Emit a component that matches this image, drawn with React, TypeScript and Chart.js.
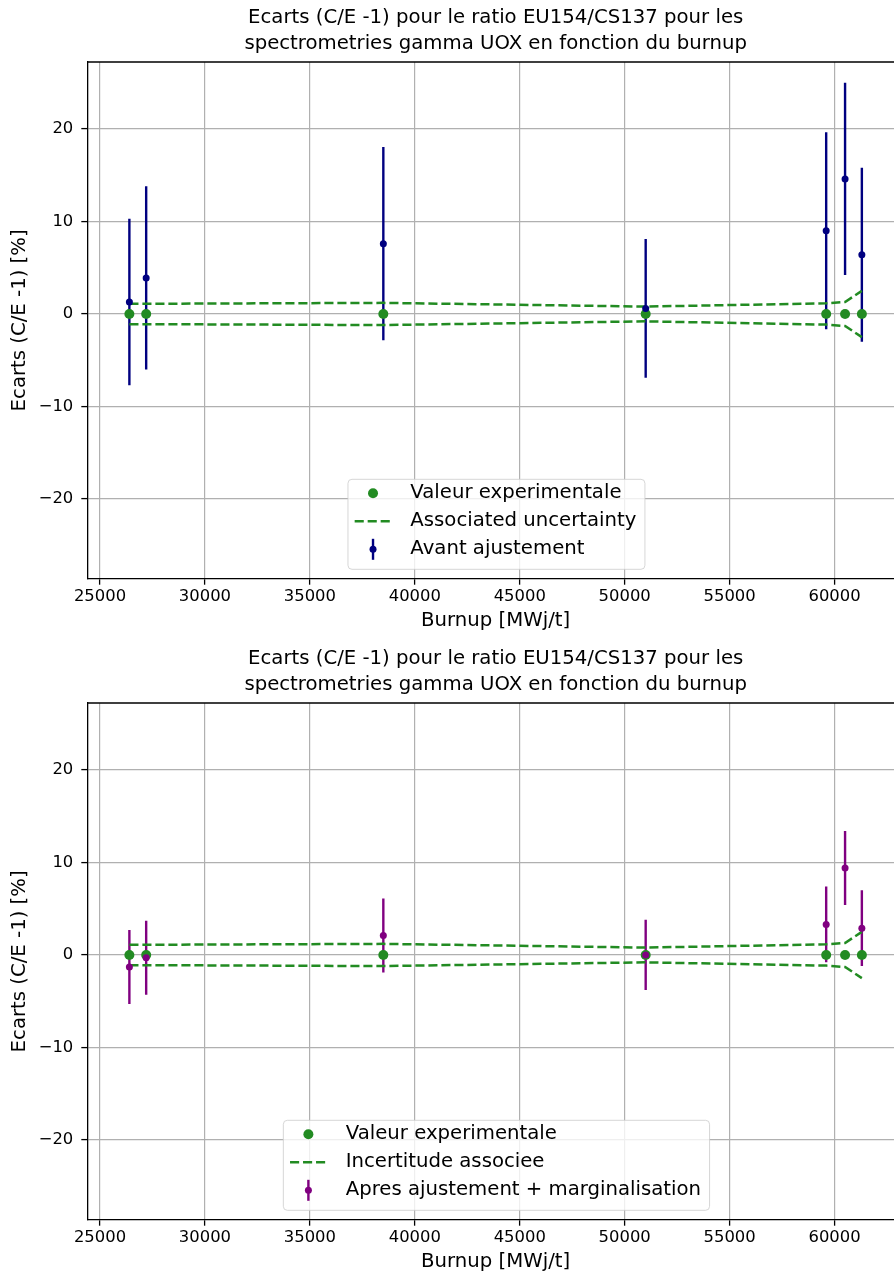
import React, { useEffect, useRef } from "react";
import { Chart, registerables } from "chart.js";
Chart.register(...registerables);

// ---- data ----
const burnup = [26400, 27200, 38500, 51000, 59600, 60500, 61300];
const experimental = [0, 0, 0, 0, 0, 0, 0];
const uncertainty = [1.1, 1.1, 1.2, 0.8, 1.15, 1.3, 2.5];
const ecartsAvant = [1.3, 3.9, 7.6, 0.6, 9.0, 14.6, 6.4];
const errAvant = [9.0, 9.9, 10.45, 7.5, 10.65, 10.4, 9.4];
const ecartsApres = [-1.3, -0.3, 2.1, 0.0, 3.3, 9.4, 2.9];
const errApres = [4.0, 4.0, 4.0, 3.8, 4.1, 4.0, 4.1];
const xTicks = [25000, 30000, 35000, 40000, 45000, 50000, 55000, 60000];
const yTicks = [-20, -10, 0, 10, 20];
const titleLines = [
  "Ecarts (C/E -1) pour le ratio EU154/CS137 pour les",
  "spectrometries gamma UOX en fonction du burnup",
];
const xLabel = "Burnup [MWj/t]";
const yLabel = "Ecarts (C/E -1) [%]";
const legendTop = ["Valeur experimentale", "Associated uncertainty", "Avant ajustement"];
const legendBottom = ["Valeur experimentale", "Incertitude associee", "Apres ajustement + marginalisation"];
const xRange = [24395, 63308];
const yRange = [-28.62, 27.24];

const FONT = "DejaVu Sans";
const GREEN = "#228B22";
const CANVAS_W = 909;

type PanelProps = {
  top: number;
  height: number;
  values: number[];
  errors: number[];
  color: string;
  labels: string[];
  xTitlePad: number;
};

function Panel(p: PanelProps) {
  const ref = useRef<HTMLCanvasElement>(null);
  useEffect(() => {
    const canvas = ref.current!;
    const errorBarPlugin = {
      id: "errorBars",
      beforeDatasetsDraw(chart: any) {
        const { ctx, chartArea, scales } = chart;
        const x = scales.x, y = scales.y;
        ctx.save();
        ctx.beginPath();
        ctx.rect(chartArea.left, chartArea.top, chartArea.right - chartArea.left, chartArea.bottom - chartArea.top);
        ctx.clip();
        ctx.strokeStyle = p.color;
        ctx.lineWidth = 2.4;
        burnup.forEach((b, i) => {
          const px = x.getPixelForValue(b);
          ctx.beginPath();
          ctx.moveTo(px, y.getPixelForValue(p.values[i] - p.errors[i]));
          ctx.lineTo(px, y.getPixelForValue(p.values[i] + p.errors[i]));
          ctx.stroke();
        });
        ctx.restore();
      },
    };
    const framePlugin = {
      id: "frameAndLegend",
      afterDraw(chart: any) {
        const { ctx, chartArea } = chart;
        ctx.save();
        ctx.strokeStyle = "#000";
        ctx.lineWidth = 1.3;
        ctx.beginPath();
        ctx.moveTo(chartArea.left, chartArea.top);
        ctx.lineTo(chartArea.right, chartArea.top);
        ctx.moveTo(chartArea.right, chartArea.top);
        ctx.lineTo(chartArea.right, chartArea.bottom);
        ctx.stroke();
        const fs = 19.7;
        ctx.font = `${fs}px "${FONT}"`;
        const maxW = Math.max(...p.labels.map((l) => ctx.measureText(l).width));
        const boxW = 62.4 + maxW + 8.5;
        const boxH = 90;
        const cx = (chartArea.left + chartArea.right) / 2;
        const left = cx - boxW / 2 + 0.8;
        const top = chartArea.bottom - 9.4 - boxH;
        ctx.beginPath();
        (ctx as any).roundRect(left, top, boxW, boxH, 4);
        ctx.fillStyle = "rgba(255,255,255,0.8)";
        ctx.fill();
        ctx.strokeStyle = "rgba(204,204,204,0.8)";
        ctx.lineWidth = 1;
        ctx.stroke();
        const hx = left + 6.7;
        const hl = 36.7;
        const hc = hx + hl / 2;
        const rows = [top + 14, top + 42, top + 70];
        ctx.fillStyle = GREEN;
        ctx.beginPath();
        ctx.arc(hc, rows[0], 5, 0, Math.PI * 2);
        ctx.fill();
        ctx.strokeStyle = GREEN;
        ctx.lineWidth = 2.5;
        ctx.setLineDash([9.1, 3.9]);
        ctx.beginPath();
        ctx.moveTo(hx, rows[1]);
        ctx.lineTo(hx + hl, rows[1]);
        ctx.stroke();
        ctx.setLineDash([]);
        ctx.strokeStyle = p.color;
        ctx.lineWidth = 2.4;
        ctx.beginPath();
        ctx.moveTo(hc, rows[2] - 10.5);
        ctx.lineTo(hc, rows[2] + 10.5);
        ctx.stroke();
        ctx.fillStyle = p.color;
        ctx.beginPath();
        ctx.arc(hc, rows[2], 3.5, 0, Math.PI * 2);
        ctx.fill();
        ctx.fillStyle = "#000";
        ctx.textBaseline = "middle";
        ctx.textAlign = "left";
        p.labels.forEach((l, i) => ctx.fillText(l, left + 62.4, rows[i]));
        ctx.restore();
      },
    };
    const pts = (ys: number[]) => burnup.map((x, i) => ({ x, y: ys[i] }));
    const chart = new Chart(canvas, {
      type: "scatter",
      data: {
        datasets: [
          {
            label: p.labels[2],
            data: pts(p.values),
            pointRadius: 3.5,
            pointBackgroundColor: p.color,
            pointBorderWidth: 0,
            showLine: false,
          },
          {
            label: p.labels[1],
            data: pts(uncertainty),
            showLine: true,
            borderColor: GREEN,
            borderWidth: 2.5,
            borderDash: [9.1, 3.9],
            pointRadius: 0,
            tension: 0,
          },
          {
            label: "",
            data: pts(uncertainty.map((u) => -u)),
            showLine: true,
            borderColor: GREEN,
            borderWidth: 2.5,
            borderDash: [9.1, 3.9],
            pointRadius: 0,
            tension: 0,
          },
          {
            label: p.labels[0],
            data: pts(experimental),
            pointRadius: 5,
            pointBackgroundColor: GREEN,
            pointBorderWidth: 0,
            showLine: false,
          },
        ] as any,
      },
      options: {
        animation: false,
        responsive: false,
        maintainAspectRatio: false,
        events: [],
        layout: { padding: 0 },
        plugins: {
          legend: { display: false },
          tooltip: { enabled: false },
          title: {
            display: true,
            fullSize: false,
            text: titleLines,
            color: "#000",
            font: { family: FONT, size: 19.7, weight: "normal", lineHeight: 1.32 },
            padding: { top: 5, bottom: 5 },
          } as any,
        },
        scales: {
          x: {
            type: "linear",
            min: xRange[0],
            max: xRange[1],
            afterBuildTicks: (s: any) => {
              s.ticks = xTicks.map((v) => ({ value: v }));
            },
            afterFit: (s: any) => {
              s.height = p.height - 578.7;
              s.paddingLeft = 0;
              s.paddingRight = 0;
            },
            ticks: {
              color: "#000",
              font: { family: FONT, size: 16.4 },
              padding: 2,
              maxRotation: 0,
              autoSkip: false,
              callback: (v: any) => String(v),
            },
            grid: { color: "#b0b0b0", lineWidth: 1.2, tickColor: "#000", tickLength: 6, tickWidth: 1.3 },
            border: { display: true, color: "#000", width: 1.3 },
            title: {
              display: true,
              text: xLabel,
              color: "#000",
              font: { family: FONT, size: 19.7 },
              padding: { top: 0, bottom: p.xTitlePad },
            },
          },
          y: {
            type: "linear",
            min: yRange[0],
            max: yRange[1],
            afterBuildTicks: (s: any) => {
              s.ticks = yTicks.map((v) => ({ value: v }));
            },
            afterFit: (s: any) => {
              s.width = 87.3;
              s.paddingTop = 0;
              s.paddingBottom = 0;
            },
            ticks: {
              color: "#000",
              font: { family: FONT, size: 16.4 },
              padding: 8,
              autoSkip: false,
              callback: (v: any) => (v < 0 ? "\u2212" + Math.abs(v) : String(v)),
            },
            grid: { color: "#b0b0b0", lineWidth: 1.2, tickColor: "#000", tickLength: 6, tickWidth: 1.3 },
            border: { display: true, color: "#000", width: 1.3 },
            title: {
              display: true,
              text: yLabel,
              color: "#000",
              font: { family: FONT, size: 19.7 },
              padding: { top: 8.2, bottom: 0 },
            },
          },
        },
      } as any,
      plugins: [errorBarPlugin, framePlugin],
    });
    return () => chart.destroy();
  }, []);
  return (
    <canvas
      ref={ref}
      width={CANVAS_W}
      height={p.height}
      style={{ position: "absolute", left: 0, top: p.top, width: CANVAS_W, height: p.height, display: "block" }}
    />
  );
}

export default function App() {
  return (
    <div
      style={{
        position: "absolute",
        left: 0,
        top: 0,
        width: 894,
        height: 1276,
        overflow: "hidden",
        background: "#fff",
      }}
    >
      <Panel top={0} height={641} values={ecartsAvant} errors={errAvant} color="#000080" labels={legendTop} xTitlePad={8.2} />
      <Panel top={641} height={635} values={ecartsApres} errors={errApres} color="#800080" labels={legendBottom} xTitlePad={2.2} />
    </div>
  );
}
